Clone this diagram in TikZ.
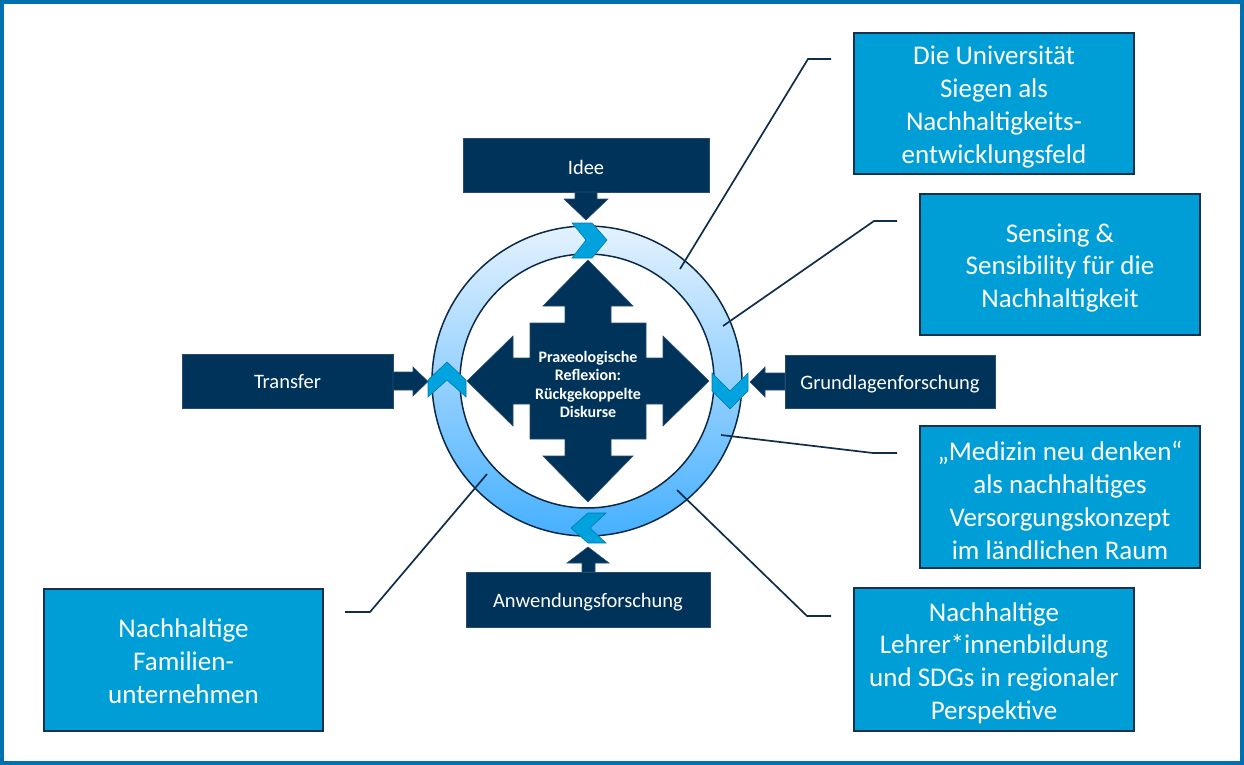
\documentclass[tikz,border=0pt]{standalone}
\usepackage{fontspec}
\setmainfont{Carlito}
\definecolor{navy}{RGB}{0,51,89}
\definecolor{navyedge}{RGB}{40,75,110}
\definecolor{cyanbox}{RGB}{0,158,214}
\definecolor{boxborder}{RGB}{20,50,80}
\definecolor{chevcol}{RGB}{0,163,221}
\definecolor{chevedge}{RGB}{0,120,175}
\definecolor{ringtop}{RGB}{228,242,255}
\definecolor{ringbot}{RGB}{70,176,255}
\definecolor{ringedge}{RGB}{12,42,72}
\definecolor{linecol}{RGB}{16,45,75}
\definecolor{framecol}{RGB}{0,112,176}
\begin{document}
\begin{tikzpicture}[x=1pt,y=-1pt,
  navybox/.style={fill=navy, draw=navyedge, line width=0.6pt, inner sep=0pt},
  navytext/.style={text=white, font=\fontsize{20.5}{24}\selectfont, inner sep=0pt},
  navyarrow/.style={fill=navy, draw=navyedge, line width=0.6pt},
  cyanbox/.style={fill=cyanbox, draw=boxborder, line width=1.6pt, inner sep=0pt,
    minimum width=280pt, minimum height=141pt},
  cyantext/.style={text=white, align=center, font=\fontsize{27}{32.8}\selectfont, inner sep=0pt},
  conn/.style={draw=linecol, line width=1.7pt},
  chevron/.style={fill=chevcol, draw=chevedge, line width=0.6pt},
  ringline/.style={draw=ringedge, line width=1.5pt},
  framestyle/.style={draw=framecol, line width=3.6pt}
]
\useasboundingbox (0,0) rectangle (1244,765);
\draw[framestyle] (1.8,1.8) rectangle (1242.2,763.2);

% ring
\coordinate (ctr) at (587,381);
\shade[top color=ringtop, bottom color=ringbot, even odd rule]
  (ctr) circle (155pt) (ctr) circle (127pt);
\draw[ringline] (ctr) circle (155pt);
\draw[ringline] (ctr) circle (127pt);

% central cross
\begin{scope}[shift={(588,381)}]
\fill[navy, draw=navyedge, line width=0.6pt]
  (0,-121) -- (45,-75) -- (23,-75) -- (23,-58) -- (58,-58) -- (58,-23) --
  (75,-23) -- (75,-45) -- (121,0) -- (75,45) -- (75,23) -- (58,23) --
  (58,58) -- (23,58) -- (23,75) -- (45,75) -- (0,121) -- (-45,75) --
  (-23,75) -- (-23,58) -- (-58,58) -- (-58,23) -- (-75,23) -- (-75,45) --
  (-121,0) -- (-75,-45) -- (-75,-23) -- (-58,-23) -- (-58,-58) --
  (-23,-58) -- (-23,-75) -- (-45,-75) -- cycle;
\end{scope}
\node[text=white, align=center, font=\bfseries\fontsize{16}{18.5}\selectfont]
  (center) at (588,384.5) {Praxeologische\\Reflexion:\\Rückgekoppelte\\Diskurse};

% chevrons
\draw[chevron] (572,223) -- (592,223) -- (607,240) -- (592,258) -- (572,258) -- (586,240) -- cycle;
\draw[chevron] (712,373) -- (730,391) -- (748,373) -- (748,391) -- (730,409) -- (712,391) -- cycle;
\draw[chevron] (588,513) -- (606,513) -- (590,528) -- (606,543) -- (588,543) -- (571,528) -- cycle;
\draw[chevron] (428,380) -- (447,362) -- (466,380) -- (466,397) -- (447,380) -- (428,397) -- cycle;

% navy boxes and their arrows
\node[navybox, minimum width=246pt, minimum height=54pt] (idee) at (586,165) {};
\node[navytext] (ideet) at ([yshift=-2pt]idee.center) {Idee};
\draw[navyarrow] (575,192) -- (597,192) -- (597,199) -- (608,199) -- (586,220) -- (564,199) -- (575,199) -- cycle;

\node[navybox, minimum width=211pt, minimum height=54pt] (transfer) at (287.5,381) {};
\node[navytext] (transfert) at ([yshift=-1pt]transfer.center) {Transfer};
\draw[navyarrow] (393,372) -- (413,372) -- (413,367) -- (428,381.5) -- (413,396) -- (413,390) -- (393,390) -- cycle;

\node[navybox, minimum width=210pt, minimum height=53pt] (grund) at (890,381.5) {};
\node[navytext] (grundt) at ([yshift=-2.5pt]grund.center) {Grundlagenforschung};
\draw[navyarrow] (785,373) -- (765,373) -- (765,367) -- (750,382) -- (765,397) -- (765,390) -- (785,390) -- cycle;

\node[navybox, minimum width=244pt, minimum height=55pt] (anw) at (588,599.5) {};
\node[navytext] (anwt) at ([yshift=-2.5pt]anw.center) {Anwendungsforschung};
\draw[navyarrow] (582,572) -- (582,563) -- (567,563) -- (588,547) -- (609,563) -- (595,563) -- (595,572) -- cycle;

% connector coordinates
\coordinate (r1) at (680,269);  \coordinate (k1) at (808,59);  \coordinate (e1) at (831,59);
\coordinate (r2) at (723,326);  \coordinate (k2) at (874,221); \coordinate (e2) at (897,221);
\coordinate (r3) at (721,435);  \coordinate (k3) at (873,453); \coordinate (e3) at (897,453);
\coordinate (r4) at (677,490);  \coordinate (k4) at (807,616); \coordinate (e4) at (831,616);
\coordinate (r5) at (487,474);  \coordinate (k5) at (370,612); \coordinate (e5) at (345,612);
\draw[conn] (r1) -- (k1) -- (e1);
\draw[conn] (r2) -- (k2) -- (e2);
\draw[conn] (r3) -- (k3) -- (e3);
\draw[conn] (r4) -- (k4) -- (e4);
\draw[conn] (r5) -- (k5) -- (e5);

% cyan boxes
\node[cyanbox] (b1) at (994,103.5) {};
\node[cyantext] (b1t) at ([yshift=-3.5pt]b1.center) {Die Universität\\Siegen als\\Nachhaltigkeits-\\entwicklungsfeld};
\node[cyanbox] (b2) at (1060,264.5) {};
\node[cyantext] (b2t) at ([yshift=-3.5pt]b2.center) {Sensing \&\\Sensibility für die\\Nachhaltigkeit};
\node[cyanbox, minimum height=142pt] (b3) at (1060,497) {};
\node[cyantext] (b3t) at ([yshift=-3.5pt]b3.center) {„Medizin neu denken“\\als nachhaltiges\\Versorgungskonzept\\im ländlichen Raum};
\node[cyanbox, minimum height=143pt] (b4) at (994,659.5) {};
\node[cyantext] (b4t) at ([yshift=-3.5pt]b4.center) {Nachhaltige\\Lehrer*innenbildung\\und SDGs in regionaler\\Perspektive};
\node[cyanbox, minimum width=279pt, minimum height=142pt] (b5) at (183.5,660) {};
\node[cyantext] (b5t) at ([yshift=-1.5pt]b5.center) {Nachhaltige\\Familien-\\unternehmen};
\end{tikzpicture}
\end{document}
